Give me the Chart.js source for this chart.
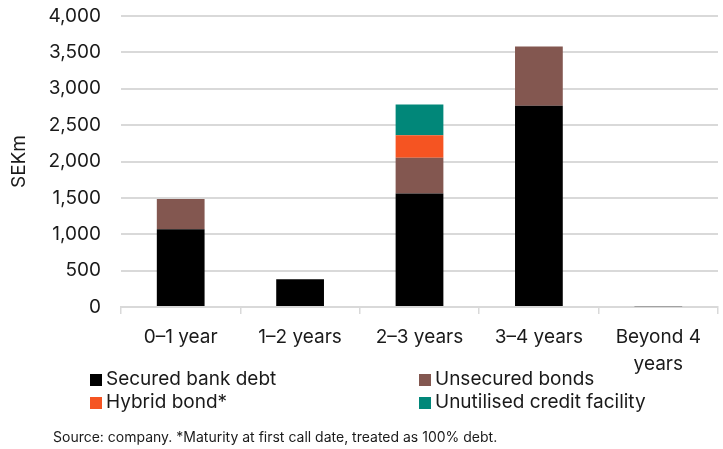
<!DOCTYPE html>
<html lang="en">
<head>
<meta charset="utf-8">
<title>Debt maturity profile</title>
<script src="https://cdn.jsdelivr.net/npm/chart.js@4/dist/chart.umd.min.js"></script>
<style>
    html, body { margin: 0; padding: 0; background: #fff; }
    #wrap { position: relative; width: 723px; height: 449px; font-family: Inter, "Liberation Sans", sans-serif; color: #1a1a1a; }
    #chart { position: absolute; left: 0; top: 0; }
    .key { position: absolute; font-size: 19px; line-height: 23px; white-space: nowrap; }
    .key i { display: inline-block; width: 12px; height: 12px; margin-right: 4px; vertical-align: -1px; }
    #source { position: absolute; left: 53px; top: 428px; font-size: 14px; white-space: nowrap; }
</style>
</head>
<body>
<div id="wrap">
    <canvas id="chart" width="723" height="449"></canvas>
    <div id="legend"></div>
    <div id="source">Source: company. *Maturity at first call date, treated as 100% debt.</div>
</div>
<script>
const categories = ['0–1 year', '1–2 years', '2–3 years', '3–4 years', ['Beyond 4', 'years']];
const securedBankDebt = [1070, 380, 1560, 2765, 10];
const unsecuredBonds = [415, 0, 490, 815, 0];
const hybridBond = [0, 0, 310, 0, 0];
const creditFacility = [0, 0, 425, 0, 0];
const yTicks = [0, 500, 1000, 1500, 2000, 2500, 3000, 3500, 4000];

const FONT = 'Inter, "Liberation Sans", sans-serif';
const GRID = '#d9d9d9';

const series = [
    { label: 'Secured bank debt', data: securedBankDebt, color: '#000000' },
    { label: 'Unsecured bonds', data: unsecuredBonds, color: '#835750' },
    { label: 'Hybrid bond*', data: hybridBond, color: '#f55422' },
    { label: 'Unutilised credit facility', data: creditFacility, color: '#018779' }
];

// legend laid out in two columns under the axis
const legendSpots = [[90, 367], [419, 367], [90, 390], [419, 390]];
const legendEl = document.getElementById('legend');
series.forEach((s, i) => {
    const el = document.createElement('div');
    el.className = 'key';
    el.style.left = legendSpots[i][0] + 'px';
    el.style.top = legendSpots[i][1] + 'px';
    el.innerHTML = `<i style="background:${s.color}"></i>${s.label}`;
    legendEl.appendChild(el);
});

new Chart(document.getElementById('chart'), {
    type: 'bar',
    data: {
        labels: categories,
        datasets: series.map(s => ({
            label: s.label,
            data: s.data,
            backgroundColor: s.color,
            borderWidth: 0,
            barPercentage: 0.4,
            categoryPercentage: 1
        }))
    },
    options: {
        responsive: false,
        animation: false,
        layout: { padding: { top: 16, right: 5, left: 0, bottom: 0 } },
        plugins: { legend: { display: false }, tooltip: { enabled: false } },
        scales: {
            x: {
                stacked: true,
                afterFit: scale => { scale.height = 142; },
                grid: { drawOnChartArea: false, color: GRID, lineWidth: 1.5, tickLength: 7 },
                border: { color: GRID, width: 2 },
                ticks: { color: '#1a1a1a', font: { family: FONT, size: 19, lineHeight: 1.42 }, padding: 10, maxRotation: 0, autoSkip: false }
            },
            y: {
                stacked: true,
                min: 0,
                max: 4000,
                afterFit: scale => {
                    scale.width = 121;
                    // tick padding is horizontal spacing only; keep it out of the top/bottom inset
                    scale.paddingTop = 0;
                    scale.paddingBottom = 0;
                },
                afterBuildTicks: scale => { scale.ticks = yTicks.map(v => ({ value: v })); },
                grid: { color: GRID, lineWidth: 2, drawTicks: false },
                border: { display: false },
                ticks: {
                    color: '#1a1a1a',
                    font: { family: FONT, size: 19 },
                    padding: 20,
                    callback: v => v.toLocaleString('en-US')
                },
                title: { display: true, text: 'SEKm', color: '#1a1a1a', font: { family: FONT, size: 19 }, padding: { top: 8, bottom: 0 } }
            }
        }
    }
});
</script>
</body>
</html>
